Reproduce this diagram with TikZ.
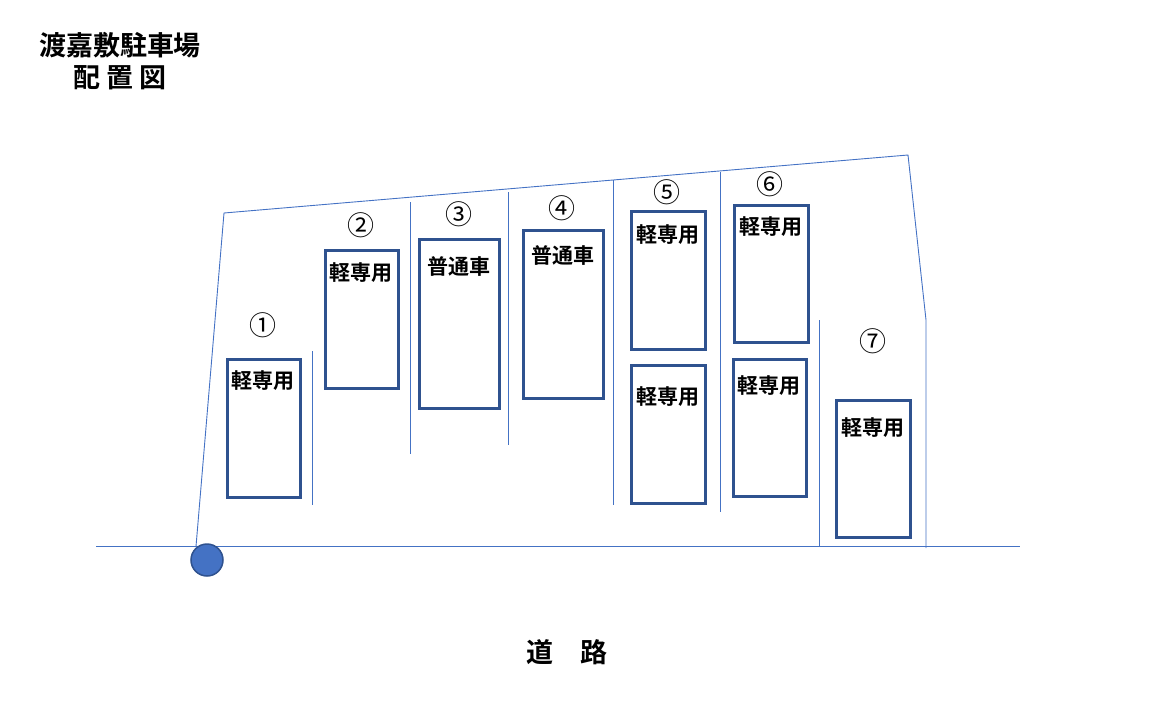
\documentclass[tikz,border=0pt]{standalone}
\usepackage{fontspec}
\setmainfont{Noto Sans CJK JP}[BoldFont={* Bold}]
\usetikzlibrary{positioning}
\definecolor{lineblue}{HTML}{4472C4}
\definecolor{boxblue}{HTML}{2F528F}
\tikzset{
  slot/.style={draw=boxblue, line width=3pt, inner sep=0pt},
  slotlabel/.style={font=\fontsize{21}{25}\selectfont\bfseries, inner sep=0pt},
  number/.style={font=\fontsize{27}{32}\selectfont, inner sep=0pt},
  heading/.style={font=\fontsize{27}{32}\selectfont\bfseries, inner sep=0pt},
  boundary/.style={draw=lineblue, line width=0.9pt}
}
\begin{document}
\begin{tikzpicture}[x=1pt, y=-1pt]
\useasboundingbox (0,0) rectangle (1152,715);

% Titel
\node [heading] (title) at (120,45) {渡嘉敷駐車場};
\node [heading] (subtitle) at (120,78) {配 置 図};
\node [heading] (road) at (567,652) {道　路};

% Grenze
\coordinate (roadL) at (96,546.5);
\coordinate (roadR) at (1020,546.5);
\coordinate (cornerA) at (196,546.5);
\coordinate (cornerB) at (224,213);
\coordinate (cornerC) at (908,155);
\coordinate (cornerD) at (926,320);
\coordinate (cornerE) at (926,548);
\path [boundary] (roadL) -- (roadR);
\path [boundary] (cornerA) -- (cornerB) -- (cornerC) -- (cornerD) -- (cornerE);

% Trennlinien
\foreach \x/\top/\bot/\nm in {312.5/351/505/a, 410.5/202/454/b, 508.5/192/445/c, 613.5/180/505/d, 720.5/172/512/e, 819.5/320/547/f} {
  \coordinate (top\nm) at (\x,\top);
  \coordinate (bot\nm) at (\x,\bot);
  \path [boundary] (top\nm) -- (bot\nm);
}

% Stellplaetze
\foreach \nm/\xa/\ya/\xb/\yb/\ty/\txt in {
  one/227/359/300/497/381/軽専用,
  two/325/250/398/388/273/軽専用,
  three/419/239/499/408/266/普通車,
  four/523/230/603/398/255/普通車,
  fiveA/631/211/705/349/235/軽専用,
  fiveB/631/365/705/503/397/軽専用,
  sixA/734/205/808/342/227/軽専用,
  sixB/733/359/806/496/386/軽専用,
  seven/836/400/910/537/428/軽専用} {
  \node [slot, minimum width={(\xb-\xa)*1pt}, minimum height={(\yb-\ya)*1pt}] (\nm) at ({(\xa+\xb)/2},{(\ya+\yb)/2}) {};
  \node [slotlabel] (\nm text) at ({(\xa+\xb)/2-0.5},\ty) {\txt};
}

% Nummern
\node [number] (numOne) at (262.5,325.5) {①};
\node [number] (numTwo) at (360.5,225.5) {②};
\node [number] (numThree) at (458.5,214.5) {③};
\node [number] (numFour) at (561.5,208.5) {④};
\node [number] (numFive) at (666.5,192.5) {⑤};
\node [number] (numSix) at (769.5,184.5) {⑥};
\node [number] (numSeven) at (872.5,341.5) {⑦};

% Punkt
\node [circle, draw=boxblue, fill=lineblue, line width=1.5pt, minimum size=32pt, inner sep=0pt] (point) at (207,560) {};

\end{tikzpicture}
\end{document}
